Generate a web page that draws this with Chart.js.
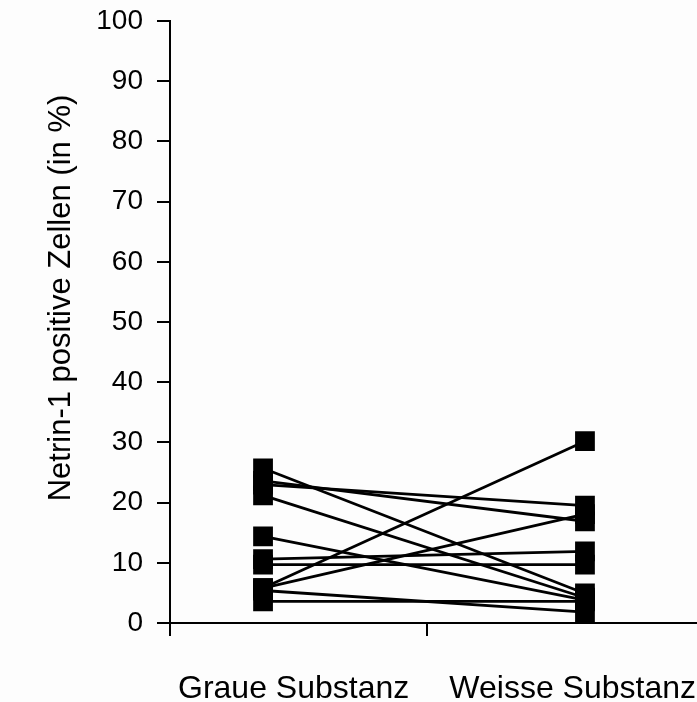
<!DOCTYPE html>
<html>
<head>
<meta charset="utf-8">
<script src="https://cdn.jsdelivr.net/npm/chart.js@4"></script>
<style>
  html, body { margin: 0; padding: 0; background: #fdfdfd; }
  #wrap { width: 697px; height: 702px; }
</style>
</head>
<body>
<div id="wrap"><canvas id="netrin"></canvas></div>
<script>
// Netrin-1 positive Zellen pro Probe, gepaart grau / weiss
const categories = ["Graue Substanz", "Weisse Substanz"];
const graue  = [25.7, 23.6, 23.0, 21.2, 14.4, 10.6, 9.7, 5.8, 5.8, 5.4, 3.6];
const weisse = [4.9, 16.9, 19.5, 4.2, 3.8, 11.9, 9.7, 30.2, 18.1, 1.8, 3.6];
const yTicks = [0, 10, 20, 30, 40, 50, 60, 70, 80, 90, 100];
const yTitle = "Netrin-1 positive Zellen (in %)";

const datasets = graue.map((g, i) => ({
  data: [{x: 1, y: g}, {x: 2, y: weisse[i]}],
  borderColor: "#000",
  backgroundColor: "#000",
  borderWidth: 2.8,
  pointStyle: "rect",
  pointRadius: 12,
  pointHoverRadius: 12,
  showLine: true,
  fill: false
}));

const xMin = 0.711, xMax = 2.348;
const FONT = "'Liberation Sans', Arial, sans-serif";

// Achsentitel und Kategorienamen
const textLayer = {
  id: "textLayer",
  afterDraw(chart) {
    const {ctx, chartArea} = chart;
    ctx.save();
    ctx.fillStyle = "#000";

    ctx.font = "32px " + FONT;
    ctx.textBaseline = "alphabetic";
    ctx.textAlign = "left";
    ctx.fillText(categories[0], chartArea.left + 8, 698);
    ctx.textAlign = "right";
    ctx.fillText(categories[1], chartArea.right - 1, 698);

    ctx.translate(61, 298);
    ctx.rotate(-Math.PI / 2);
    ctx.font = "31px " + FONT;
    ctx.textAlign = "center";
    ctx.textBaseline = "middle";
    ctx.fillText(yTitle, 0, 0);
    ctx.restore();
  }
};

new Chart(document.getElementById("netrin"), {
  type: "scatter",
  data: { datasets: datasets },
  options: {
    responsive: true,
    maintainAspectRatio: false,
    animation: false,
    layout: { autoPadding: false, padding: 0 },
    plugins: { legend: { display: false }, tooltip: { enabled: false } },
    scales: {
      x: {
        type: "linear",
        min: xMin,
        max: xMax,
        afterBuildTicks(scale) {
          scale.ticks = [{value: xMin}, {value: 1.51}];
        },
        afterFit(scale) { scale.height = 79; },
        ticks: { display: false },
        grid: {
          drawOnChartArea: false,
          drawTicks: true,
          tickLength: 13,
          color: "#000",
          lineWidth: 2
        },
        border: { display: true, color: "#000", width: 2 }
      },
      y: {
        min: 0,
        max: 100,
        afterBuildTicks(scale) {
          scale.ticks = yTicks.map(v => ({value: v}));
        },
        afterFit(scale) {
          scale.width = 170;
          scale.paddingTop = 21;
          scale.paddingBottom = 0;
        },
        ticks: {
          color: "#000",
          padding: 14,
          font: { family: FONT, size: 28 }
        },
        grid: {
          drawOnChartArea: false,
          drawTicks: true,
          tickLength: 13,
          color: "#000",
          lineWidth: 2
        },
        border: { display: true, color: "#000", width: 2 }
      }
    }
  },
  plugins: [textLayer]
});
</script>
</body>
</html>
